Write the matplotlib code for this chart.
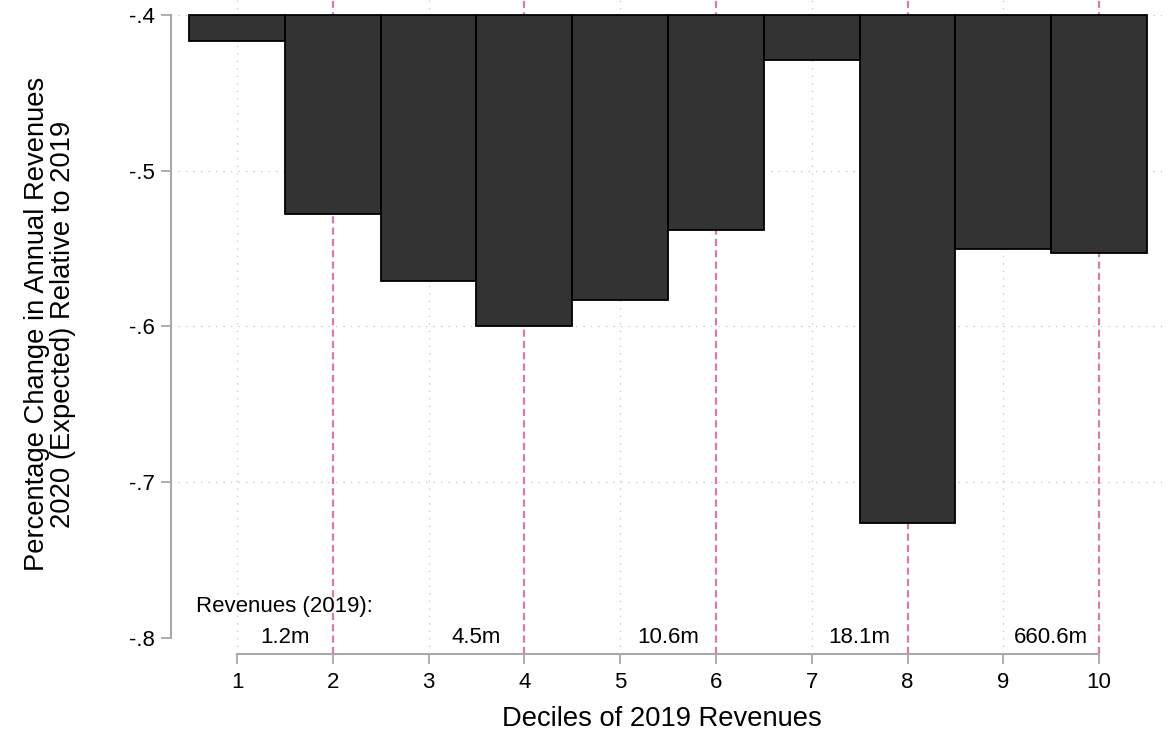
import matplotlib.pyplot as plt
import numpy as np

plt.rcParams['font.family'] = ['Liberation Sans', 'DejaVu Sans']

# mean change in revenues by decile of 2019 revenues
deciles = np.arange(1, 11)
pct_change = [-0.417, -0.528, -0.571, -0.600, -0.583, -0.538, -0.429, -0.726, -0.550, -0.553]

# revenue cutoffs shown between pairs of deciles
rev_pos = [1.5, 3.5, 5.5, 7.5, 9.5]
rev_labels = ['1.2m', '4.5m', '10.6m', '18.1m', '660.6m']

yticks = [-0.8, -0.7, -0.6, -0.5, -0.4]
ytick_labels = ['-.8', '-.7', '-.6', '-.5', '-.4']
base = -0.4

fig = plt.figure(figsize=(11.68, 7.31), dpi=100)
ax = fig.add_axes([0.1524, 0.1053, 0.8425, 0.8947])

axis_gray = '#a8a8a8'
grid_gray = '#c4c4c4'

# grid: dotted gray, even deciles marked with dashed magenta
for y in yticks[1:]:
    ax.axhline(y, color=grid_gray, lw=0.9, ls=(0, (1, 5)), zorder=0)
for x in deciles:
    if x % 2:
        ax.axvline(x, color=grid_gray, lw=0.9, ls=(0, (1, 5)), zorder=0)
    else:
        ax.axvline(x, color='#d87aae', lw=1.6, ls=(0, (3.2, 1.9)), zorder=0.5)

heights = [v - base for v in pct_change]
ax.bar(deciles, heights, bottom=base, width=1.0, color='#333333',
       edgecolor='black', linewidth=1.3, zorder=2)

ax.text(0.57, -0.780, 'Revenues (2019):', fontsize=16, ha='left', va='center')
for xp, lab in zip(rev_pos, rev_labels):
    ax.text(xp, -0.800, lab, fontsize=16, ha='center', va='center')

ax.set_xlim(0.384, 10.657)
ax.set_ylim(-0.8104, -0.3904)

for s in ['top', 'right']:
    ax.spines[s].set_visible(False)
ax.spines['left'].set_position(('outward', 5))
ax.spines['left'].set_bounds(-0.8, -0.4)
ax.spines['bottom'].set_bounds(1, 10)
for s in ['left', 'bottom']:
    ax.spines[s].set_color(axis_gray)
    ax.spines[s].set_linewidth(1.5)

ax.set_xticks(deciles)
ax.set_xticklabels([str(d) for d in deciles])
ax.set_yticks(yticks)
ax.set_yticklabels(ytick_labels)
ax.tick_params(axis='both', colors=axis_gray, labelcolor='black', labelsize=16,
               length=7, width=1.3)
ax.tick_params(axis='x', pad=6)
ax.tick_params(axis='y', pad=5)

fig.text(0.5668, 0.0164, 'Deciles of 2019 Revenues', fontsize=19.7, ha='center', va='center')
fig.text(0.0428, 0.5568, 'Percentage Change in Annual Revenues\n2020 (Expected) Relative to 2019',
         fontsize=19.7, ha='center', va='center', rotation=90, linespacing=1.0)

fig.savefig('out.png', dpi=100)
